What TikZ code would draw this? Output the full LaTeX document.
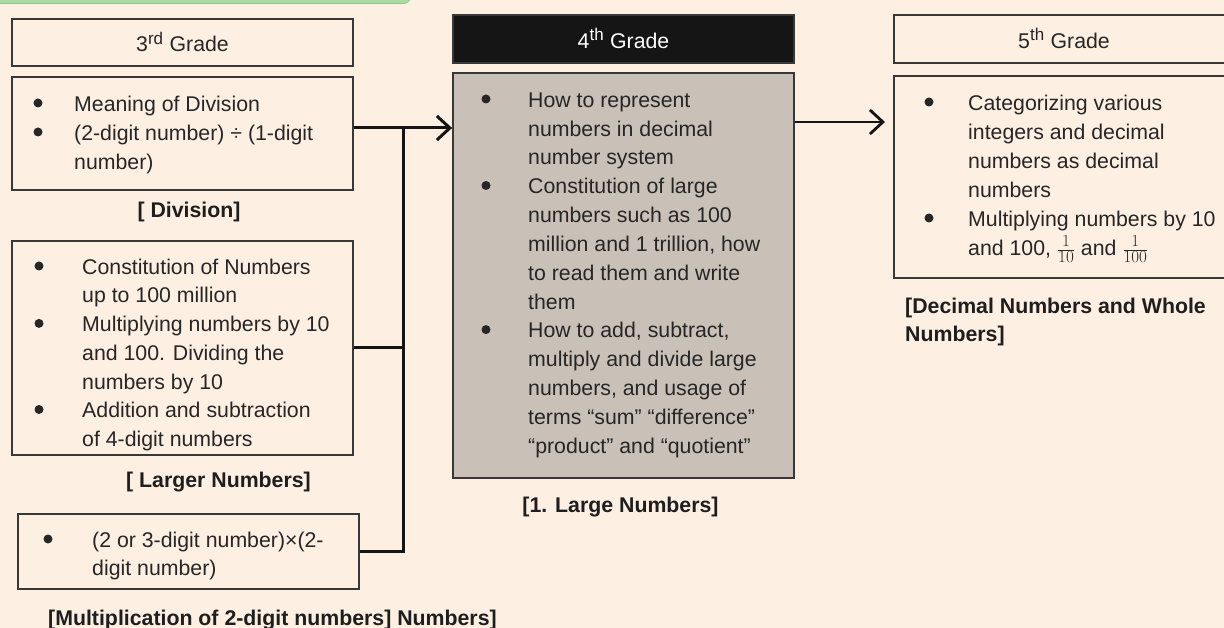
\RequirePackage{fix-cm}
\documentclass[tikz,border=0pt]{standalone}
\usepackage{fontspec}
\setmainfont{Liberation Sans}
\usetikzlibrary{arrows.meta}
\DeclareMathSizes{21.3}{21.3}{17}{12}
\definecolor{bg}{HTML}{FDF0E3}
\definecolor{bdr}{HTML}{383838}
\definecolor{txt}{HTML}{262626}
\definecolor{lbltxt}{HTML}{1E1E1E}
\definecolor{grayfill}{HTML}{C9C0B7}
\definecolor{headblack}{HTML}{151515}
\definecolor{greenbar}{HTML}{AAD9A2}
\definecolor{greenedge}{HTML}{90C98A}
\newcommand{\strt}{\rule{0pt}{16pt}}
\begin{document}
\begin{tikzpicture}[x=1pt,y=-1pt,
  box/.style={draw=bdr, line width=1.8pt, minimum width=341pt, inner sep=0pt, text=txt},
  hd/.style={box, font=\fontsize{21.3}{26}\selectfont, text height=19pt, text depth=0pt},
  body/.style={anchor=north west, inner sep=0pt, align=left, text=txt, font=\fontsize{21.3}{29}\selectfont},
  lbl/.style={inner sep=0pt, text=lbltxt, font=\bfseries\fontsize{21.3}{28}\selectfont},
  conn/.style={draw=black!92, line width=3pt},
  tip/.style={-{Straight Barb[length=13pt,width=24pt]}},
  dot/.style={fill=txt}]
\fill[bg] (0,0) rectangle (1224,628);
\useasboundingbox (0,0) rectangle (1224,628);
\clip (0,0) rectangle (1224,628);
% green bar
\filldraw[fill=greenbar, draw=greenedge, line width=0.8pt, rounded corners=6pt] (-12,-12) rectangle (410,3.5);
% 3rd grade
\node[hd, minimum height=47pt] (h3) at (182.5,42.5) {3\textsuperscript{rd} Grade};
\node[box, minimum height=113pt] (c3div) at (182.5,133.5) {};
\node[box, minimum height=214pt] (c3lar) at (182.5,348) {};
\node[box, minimum height=75pt] (c3mul) at (188.5,551.5) {};
\node[body] (t3div) at (74,95) {\strt Meaning of Division\\
(2-digit number) ÷ (1-digit\\
number)};
\node[body, font=\fontsize{21.3}{28.7}\selectfont] (t3lar) at (82,258) {\strt Constitution of Numbers\\
up to 100 million\\
Multiplying numbers by 10\\
and 100. Dividing the\\
numbers by 10\\
Addition and subtraction\\
of 4-digit numbers};
\node[body, font=\fontsize{21.3}{28}\selectfont] (t3mul) at (92,531) {\strt (2 or 3-digit number)×(2-\\
digit number)};
\node[lbl, anchor=base] (l3div) at (189,218) {[ Division]};
\node[lbl, anchor=base] (l3lar) at (218.5,487) {[ Larger Numbers]};
\node[lbl, anchor=base west] (l3mul) at (48,625) {[Multiplication of 2-digit numbers] Numbers]};
% 4th grade
\node[hd, fill=headblack, text=white, minimum height=48pt] (h4) at (623.5,39) {4\textsuperscript{th} Grade};
\node[box, fill=grayfill, minimum height=405pt] (c4) at (623.5,275.5) {};
\node[body, font=\fontsize{21.3}{28.83}\selectfont] (t4) at (528,91) {\strt How to represent\\
numbers in decimal\\
number system\\
Constitution of large\\
numbers such as 100\\
million and 1 trillion, how\\
to read them and write\\
them\\
How to add, subtract,\\
multiply and divide large\\
numbers, and usage of\\
terms “sum” “difference”\\
“product” and “quotient”};
\node[lbl, anchor=base] (l4) at (620.5,512) {[1. Large Numbers]};
% 5th grade
\node[hd, minimum width=340pt, minimum height=48pt] (h5) at (1064,39) {5\textsuperscript{th} Grade};
\node[box, minimum width=340pt, minimum height=202pt] (c5) at (1064,177) {};
\node[body] (t5) at (968,94) {\strt Categorizing various\\
integers and decimal\\
numbers as decimal\\
numbers\\
Multiplying numbers by 10\\
and 100, $\frac{1}{10}$ and $\frac{1}{100}$};
\node[lbl, anchor=north west, align=left] (l5) at (905,297) {\strt[Decimal Numbers and Whole\\Numbers]};
% bullets
\foreach \bx/\by in {38/103, 38/132, 39/266, 39/323.4, 39/409.5, 48/539,
                     486/99, 486/185.5, 486/329.6, 929/102, 929/218}
  \fill[dot] (\bx,\by) circle (4.5pt);
% connectors
\coordinate (jt) at (403,128);
\coordinate (a5) at (885,122);
\draw[conn, tip] (c3div.east |- jt) -- (c4.west |- jt);
\draw[conn] (jt) -- (c3mul.east -| jt) -- (c3mul.east);
\draw[conn] (c3lar.east) -- (c3lar.east -| jt);
\draw[conn, line width=2.8pt, tip] (c4.east |- a5) -- (a5);
\end{tikzpicture}
\end{document}
